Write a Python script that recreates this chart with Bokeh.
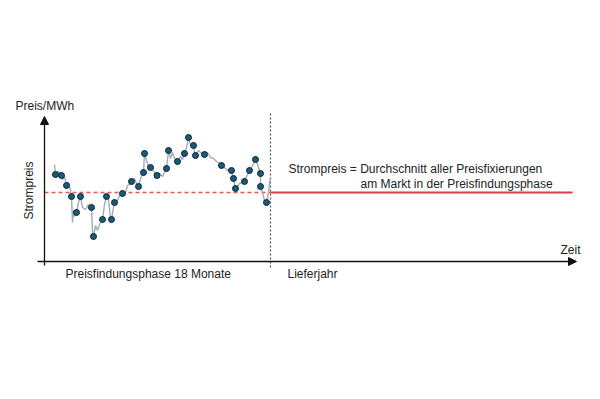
from bokeh.plotting import figure
from bokeh.models import Arrow, NormalHead, Range1d
from bokeh.embed import file_html
from bokeh.resources import INLINE
from bokeh.core.properties import value
import math

# --- data (schematic units: time steps, price units) ---
phase_end = 227          # end of 18-month price-finding phase
delivery_end = 529       # end of delivery year
avg_price = 70           # average of all price fixings

fix_time = [12, 18, 23, 28, 33, 37, 48, 50, 59, 63, 68, 71, 79, 88, 95, 100, 101, 107, 113.5,
            123, 125, 134, 141, 145, 150, 152, 161, 178, 188, 190, 192, 201, 206, 212, 217, 217, 223]
fix_price = [88, 87, 77, 66, 50, 66, 55, 26, 43, 66, 43, 60, 69, 81, 76, 90, 109, 95, 87,
             94, 112, 101, 109, 125, 117, 107, 108, 97, 92, 84, 74, 81, 92, 103, 89, 76, 60]

line_time = [11, 12, 15, 18, 19, 21, 23, 25, 27, 28, 29, 30, 31, 33, 35, 37, 39, 42, 45, 48,
             49, 50, 52, 54, 56, 59, 61, 63, 65, 67, 68, 70, 71, 74, 76, 79, 82, 84, 87, 88,
             91, 93, 95, 97, 100, 101, 103, 105, 107, 110, 113, 116, 119, 123, 125, 127, 129, 131,
             134, 137, 139, 141, 143, 145, 147, 150, 151, 152, 155, 158, 161, 164, 167, 170, 173,
             176, 178, 181, 184, 186, 188, 189, 190, 191, 192, 194, 196, 199, 201, 204, 206, 209,
             212, 214, 216, 217, 217, 219, 221, 223, 225, 226, 227]
line_price = [98, 88, 91, 87, 83, 86, 77, 80, 72, 66, 40, 52, 46, 50, 60, 66, 55, 53, 58, 55,
              30, 26, 37, 32, 38, 43, 58, 66, 63, 45, 43, 55, 60, 62, 67, 69, 70, 77, 79, 81,
              84, 79, 76, 84, 90, 109, 102, 96, 95, 92, 87, 89, 86, 94, 112, 104, 110, 104,
              101, 106, 103, 109, 115, 125, 118, 117, 110, 107, 112, 109, 108, 110, 105, 104, 101,
              99, 97, 95, 92, 94, 92, 87, 84, 78, 74, 76, 79, 80, 81, 88, 92, 97,
              103, 98, 92, 89, 76, 70, 62, 60, 70, 80, 84]

labels = {
    "y_axis": "Preis/MWh",
    "y_title": "Strompreis",
    "x_axis": "Zeit",
    "phase": "Preisfindungsphase 18 Monate",
    "delivery": "Lieferjahr",
    "note1": "Strompreis = Durchschnitt aller Preisfixierungen",
    "note2": "am Markt in der Preisfindungsphase",
}

FONT = value("Liberation Sans")
FS = "12px"
TXT = "#222222"

p = figure(width=584, height=383, output_backend="svg", toolbar_location=None,
           x_range=Range1d(-43, 541), y_range=Range1d(-121, 262), min_border=0)
p.axis.visible = False
p.grid.visible = False
p.outline_line_color = None
p.background_fill_color = "white"
p.border_fill_color = "white"

# axes with arrow heads
p.add_layout(Arrow(end=NormalHead(size=8, fill_color="#111111", line_color="#111111"),
                   x_start=1, y_start=-3, x_end=1, y_end=146, line_color="#111111", line_width=1.3))
p.add_layout(Arrow(end=NormalHead(size=8, fill_color="#111111", line_color="#111111"),
                   x_start=-6, y_start=1, x_end=533, y_end=1, line_color="#111111", line_width=1.3))

# vertical separator (dotted)
p.segment(x0=[phase_end], y0=[-5], x1=[phase_end], y1=[150], line_color="#555555",
          line_width=1.2, line_dash="2 2")

# average lines
p.segment(x0=[1], y0=[avg_price], x1=[phase_end], y1=[avg_price], line_color="#e05a5a",
          line_width=1.3, line_dash="4 3")
p.segment(x0=[phase_end], y0=[avg_price], x1=[delivery_end], y1=[avg_price], line_color="#d53e4b",
          line_width=2)

# price path and fixings
p.line(line_time, line_price, line_color="#a4acb4", line_width=1.4)
p.scatter(fix_time, fix_price, size=6, fill_color="#1b5a75", line_color="#0c2433", line_width=1)

# texts
p.text(x=[-28], y=[157], text=[labels["y_axis"]], text_font=FONT, text_font_size=FS,
       text_color=TXT, text_align="left", text_baseline="middle")
p.text(x=[-15], y=[72], text=[labels["y_title"]], text_font=FONT, text_font_size=FS,
       text_color=TXT, text_align="center", text_baseline="middle", angle=math.pi / 2)
p.text(x=[517], y=[13], text=[labels["x_axis"]], text_font=FONT, text_font_size=FS,
       text_color=TXT, text_align="left", text_baseline="alphabetic")
p.text(x=[22], y=[-11], text=[labels["phase"]], text_font=FONT, text_font_size=FS,
       text_color=TXT, text_align="left", text_baseline="alphabetic")
p.text(x=[244], y=[-11], text=[labels["delivery"]], text_font=FONT, text_font_size=FS,
       text_color=TXT, text_align="left", text_baseline="alphabetic")
p.text(x=[245], y=[94], text=[labels["note1"]], text_font=FONT, text_font_size=FS,
       text_color=TXT, text_align="left", text_baseline="alphabetic")
p.text(x=[317], y=[79], text=[labels["note2"]], text_font=FONT, text_font_size=FS,
       text_color=TXT, text_align="left", text_baseline="alphabetic")

open("out.html", "w").write(file_html(p, INLINE))
